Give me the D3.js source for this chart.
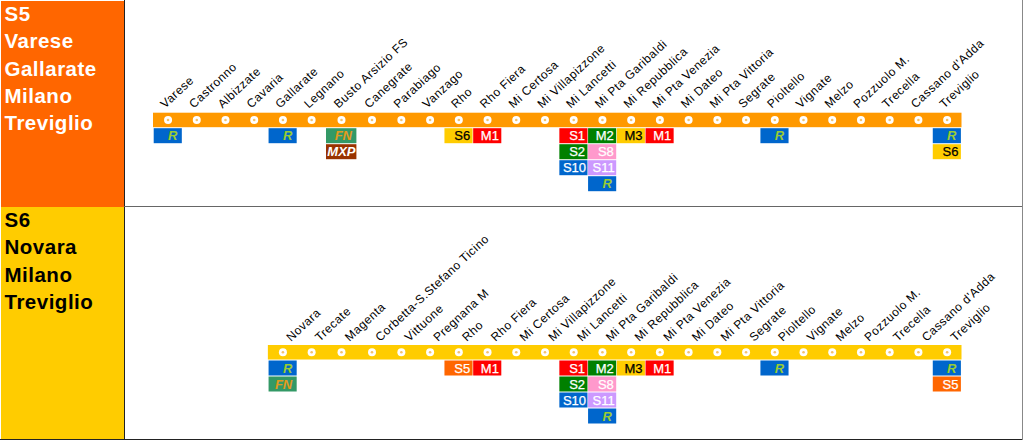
<!DOCTYPE html>
<html>
<head>
<meta charset="utf-8">
<script src="https://cdn.jsdelivr.net/npm/d3@7"></script>
<style>
html, body { margin: 0; padding: 0; background: #fff; overflow: hidden; }
svg { display: block; }
text { font-family: "Liberation Sans", Arial, sans-serif; }
</style>
</head>
<body>
<div id="chart"></div>
<script>
var width = 1024
var height = 440

// the stations, left to right
var s5Stations = ["Varese", "Castronno", "Albizzate", "Cavaria", "Gallarate", "Legnano", "Busto Arsizio FS",
    "Canegrate", "Parabiago", "Vanzago", "Rho", "Rho Fiera", "Mi Certosa", "Mi Villapizzone", "Mi Lancetti",
    "Mi Pta Garibaldi", "Mi Repubblica", "Mi Pta Venezia", "Mi Dateo", "Mi Pta Vittoria", "Segrate", "Pioltello",
    "Vignate", "Melzo", "Pozzuolo M.", "Trecella", "Cassano d'Adda", "Treviglio"]
var s6Stations = ["Novara", "Trecate", "Magenta", "Corbetta-S.Stefano Ticino", "Vittuone", "Pregnana M", "Rho",
    "Rho Fiera", "Mi Certosa", "Mi Villapizzone", "Mi Lancetti", "Mi Pta Garibaldi", "Mi Repubblica",
    "Mi Pta Venezia", "Mi Dateo", "Mi Pta Vittoria", "Segrate", "Pioltello", "Vignate", "Melzo", "Pozzuolo M.",
    "Trecella", "Cassano d'Adda", "Treviglio"]

// interchanges, station then what stops there
var s5Links = [
    ["Varese", ["R"]],
    ["Gallarate", ["R"]],
    ["Busto Arsizio FS", ["FN", "MXP"]],
    ["Rho", ["S6"]],
    ["Rho Fiera", ["M1"]],
    ["Mi Lancetti", ["S1", "S2", "S10"]],
    ["Mi Pta Garibaldi", ["M2", "S8", "S11", "R"]],
    ["Mi Repubblica", ["M3"]],
    ["Mi Pta Venezia", ["M1"]],
    ["Pioltello", ["R"]],
    ["Treviglio", ["R", "S6"]]
]
var s6Links = [
    ["Novara", ["R", "FN"]],
    ["Rho", ["S5"]],
    ["Rho Fiera", ["M1"]],
    ["Mi Lancetti", ["S1", "S2", "S10"]],
    ["Mi Pta Garibaldi", ["M2", "S8", "S11", "R"]],
    ["Mi Repubblica", ["M3"]],
    ["Mi Pta Venezia", ["M1"]],
    ["Pioltello", ["R"]],
    ["Treviglio", ["R", "S5"]]
]

var s5Title = ["S5", "Varese", "Gallarate", "Milano", "Treviglio"]
var s6Title = ["S6", "Novara", "Milano", "Treviglio"]

var chipColors = {
    R: { fill: "#0066cc", text: "#99cc33", italic: true, pad: 5 },
    FN: { fill: "#339966", text: "#e39a1c", italic: true, pad: 5 },
    MXP: { fill: "#993300", text: "#ffffff", italic: true, pad: 1.5 },
    S1: { fill: "#ff0000", text: "#ffffff", pad: 3 },
    S2: { fill: "#008000", text: "#ffffff", pad: 3 },
    S5: { fill: "#ff6600", text: "#ffffff", pad: 3 },
    S6: { fill: "#ffcc00", text: "#000000", pad: 3 },
    S8: { fill: "#ff99cc", text: "#ffffff", pad: 3 },
    S10: { fill: "#0066cc", text: "#ffffff", pad: 2 },
    S11: { fill: "#cc99ff", text: "#ffffff", pad: 2 },
    M1: { fill: "#ff0000", text: "#ffffff", pad: 3 },
    M2: { fill: "#008000", text: "#ffffff", pad: 3 },
    M3: { fill: "#ffcc00", text: "#000000", pad: 3 }
}

var panelWidth = 124
var splitY = 207

// sheet columns are not all the same width: Busto and Canegrate are wider
var colEdge = d3.scaleLinear()
    .domain([0, 6, 7, 8, 28])
    .range([153.7, 326, 357, 387, 961.5])

var chipRow = d3.scaleBand()
    .domain(d3.range(4))
    .paddingInner(0.0625)

var svg = d3.select("#chart")
    .append("svg")
    .attr("width", width)
    .attr("height", height)

// S6 sits on the same columns as S5, so its index is taken from the right end
function drawLine(opts) {
    var g = svg.append("g")

    g.append("rect")
        .attr("x", 1)
        .attr("y", opts.top)
        .attr("width", panelWidth - 1)
        .attr("height", opts.bottom - opts.top)
        .attr("fill", opts.panel)

    g.selectAll("text.title")
        .data(opts.title)
        .enter()
        .append("text")
        .attr("class", "title")
        .attr("x", 4.5)
        .attr("y", function (d, i) { return opts.top + 20 + i * 27.3 })
        .attr("font-size", 20.5)
        .attr("font-weight", "bold")
        .attr("letter-spacing", 0.5)
        .attr("fill", opts.titleColor)
        .text(function (d) { return d })

    var offset = s5Stations.length - opts.stations.length
    var center = function (name) { return colEdge(opts.stations.indexOf(name) + offset + 0.5) }

    g.append("rect")
        .attr("x", colEdge(offset) - 0.7)
        .attr("y", opts.barY)
        .attr("width", colEdge(28) - colEdge(offset) + 0.7)
        .attr("height", 14.5)
        .attr("fill", opts.barColor)

    g.selectAll("circle.stop")
        .data(opts.stations)
        .enter()
        .append("circle")
        .attr("class", "stop")
        .attr("cx", center)
        .attr("cy", opts.barY + 7.3)
        .attr("r", 4)
        .attr("fill", "#fff")

    g.selectAll("circle.hole")
        .data(opts.stations)
        .enter()
        .append("circle")
        .attr("class", "hole")
        .attr("cx", center)
        .attr("cy", opts.barY + 7.3)
        .attr("r", 1.3)
        .attr("fill", "#f5c26b")

    g.selectAll("text.station")
        .data(opts.stations)
        .enter()
        .append("text")
        .attr("class", "station")
        .attr("transform", function (d) {
            return "translate(" + (center(d) + opts.labelDx) + "," + (opts.barY + opts.labelDy) + ") rotate(-43)"
        })
        .attr("font-size", 12)
        .attr("letter-spacing", 0.5)
        .attr("fill", "#000")
        .text(function (d) { return d })

    chipRow.range([opts.barY + 15.5, opts.barY + 15.5 + 63])

    opts.links.forEach(function (link) {
        var x0 = colEdge(opts.stations.indexOf(link[0]) + offset)
        var x1 = colEdge(opts.stations.indexOf(link[0]) + offset + 1)
        var chips = g.selectAll(null)
            .data(link[1])
            .enter()
            .append("g")
            .attr("transform", function (d, i) { return "translate(" + x0 + "," + chipRow(i) + ")" })

        chips.append("rect")
            .attr("width", x1 - x0 - 0.6)
            .attr("height", chipRow.bandwidth())
            .attr("fill", function (d) { return chipColors[d].fill })

        chips.append("text")
            .attr("x", function (d) { return x1 - x0 - chipColors[d].pad })
            .attr("y", chipRow.bandwidth() / 2 + 4.5)
            .attr("text-anchor", "end")
            .attr("font-size", 13)
            .attr("font-weight", function (d) { return chipColors[d].italic ? "bold" : "normal" })
            .attr("font-style", function (d) { return chipColors[d].italic ? "italic" : "normal" })
            .attr("stroke", function (d) { return chipColors[d].italic ? "none" : chipColors[d].text })
            .attr("stroke-width", 0.25)
            .attr("fill", function (d) { return chipColors[d].text })
            .text(function (d) { return d })
    })
}

drawLine({
    top: 1, bottom: splitY, panel: "#ff6600", title: s5Title, titleColor: "#fff",
    stations: s5Stations, links: s5Links, barColor: "#ff9900", barY: 112.7, labelDx: -3, labelDy: -4
})
drawLine({
    top: splitY, bottom: 439, panel: "#ffcc00", title: s6Title, titleColor: "#000",
    stations: s6Stations, links: s6Links, barColor: "#ffcc00", barY: 345, labelDx: 8, labelDy: -3
})

// sheet borders
svg.append("line").attr("x1", panelWidth + 0.5).attr("x2", panelWidth + 0.5).attr("y1", 0).attr("y2", 440).attr("stroke", "#222")
svg.append("line").attr("x1", panelWidth).attr("x2", 1022).attr("y1", splitY - 0.5).attr("y2", splitY - 0.5).attr("stroke", "#666")
svg.append("line").attr("x1", 0).attr("x2", 1022).attr("y1", 439.5).attr("y2", 439.5).attr("stroke", "#222")
svg.append("line").attr("x1", 1022.5).attr("x2", 1022.5).attr("y1", 0).attr("y2", 440).attr("stroke", "#888")
</script>
</body>
</html>
